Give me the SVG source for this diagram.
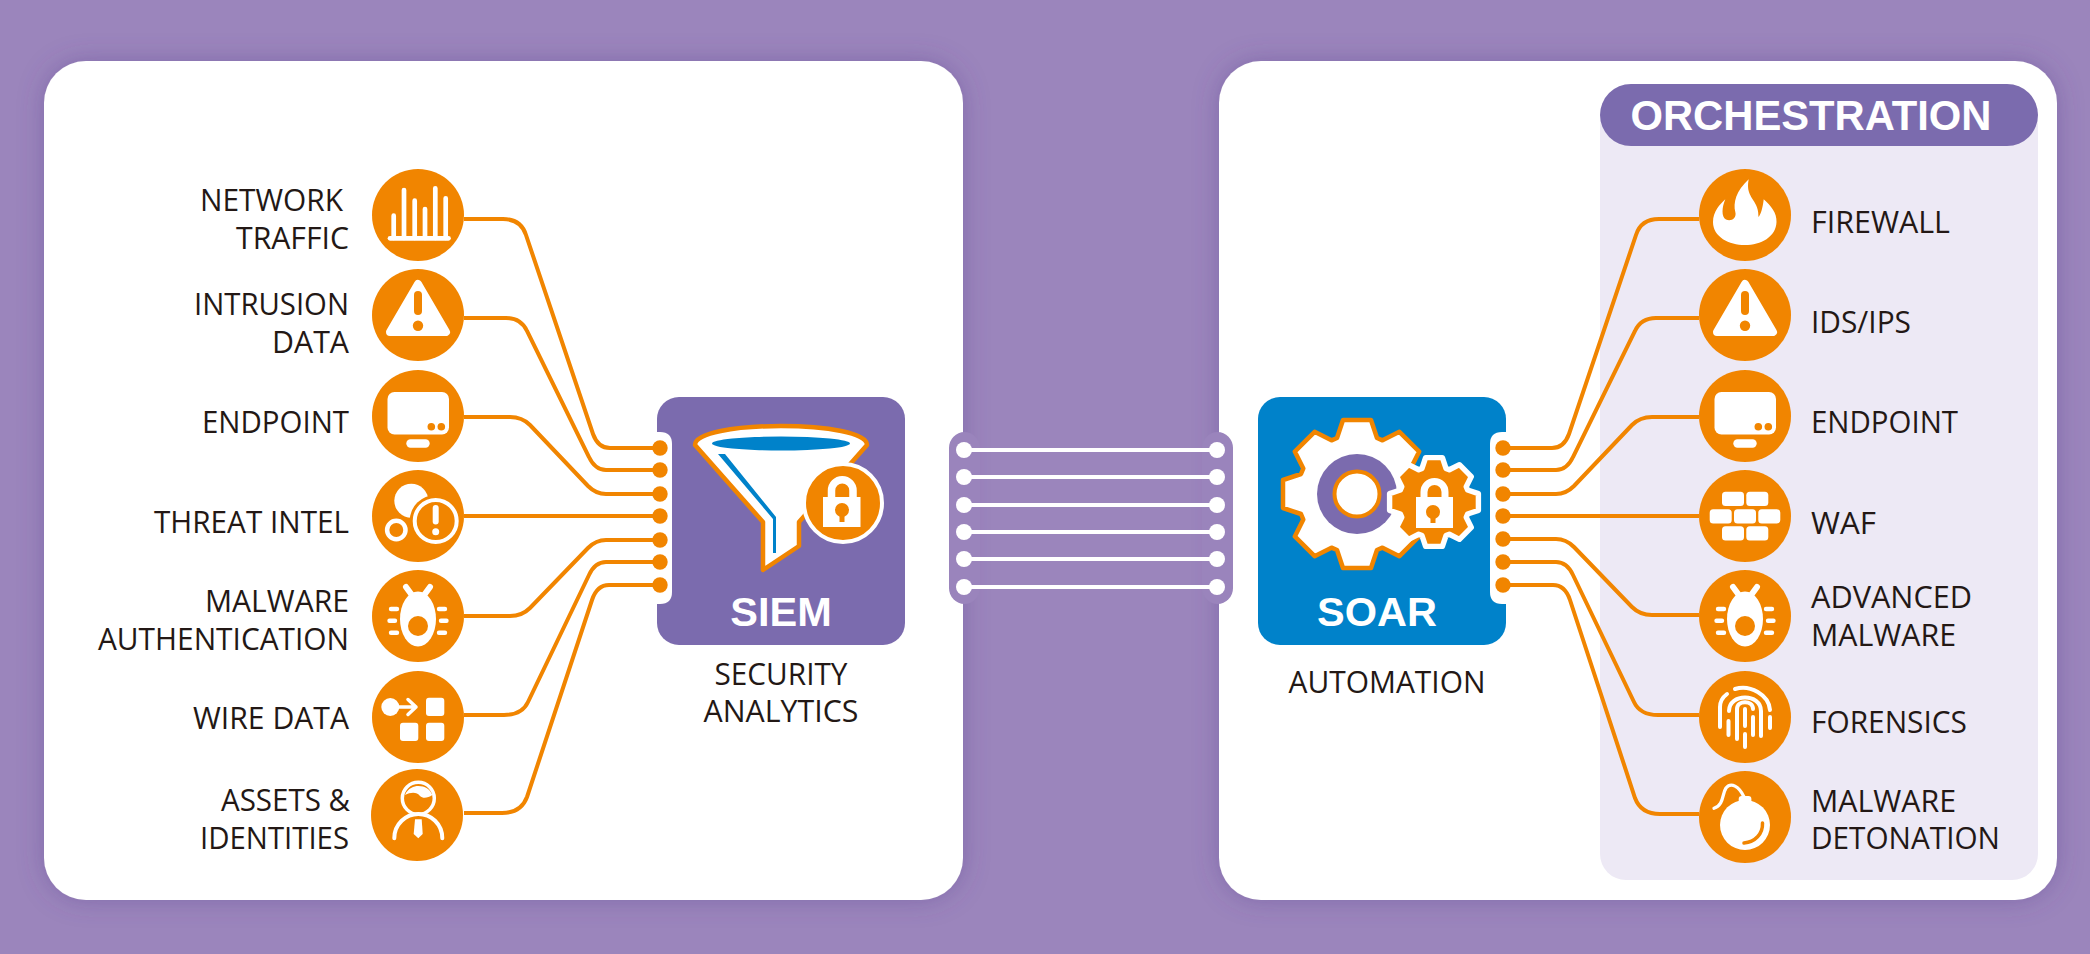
<svg xmlns="http://www.w3.org/2000/svg" width="2090" height="954" viewBox="0 0 2090 954">
<style>
.lbl{font-family:"Open Sans","Noto Sans","Liberation Sans",sans-serif;font-size:31px;fill:#231815}
.r{text-anchor:end}
.m{text-anchor:middle}
.ttl{font-family:"Liberation Sans",Arial,sans-serif;font-weight:700;fill:#fff}
.wire{fill:none;stroke:#f18500;stroke-width:4}
.dot{fill:#f18500}
.wl{stroke:#fff;stroke-width:4.2}
.wd{fill:#fff}
.disc{fill:#f18500}
.w{fill:#fff}
.ws{fill:none;stroke:#fff;stroke-linecap:round;stroke-linejoin:round}
.os{fill:none;stroke:#f18500;stroke-linecap:round;stroke-linejoin:round}
</style>
<defs>
<filter id="sh" x="-10%" y="-10%" width="120%" height="120%"><feDropShadow dx="0" dy="0" stdDeviation="13" flood-color="#5b4490" flood-opacity="0.42"/></filter>
<polygon id="gear" points="-20,-56 -14,-74 14,-74 20,-56 25.5,-53.7 42.4,-62.2 62.2,-42.4 53.7,-25.5 56,-20 74,-14 74,14 56,20 53.7,25.5 62.2,42.4 42.4,62.2 25.5,53.7 20,56 14,74 -14,74 -20,56 -25.5,53.7 -42.4,62.2 -62.2,42.4 -53.7,25.5 -56,20 -74,14 -74,-14 -56,-20 -53.7,-25.5 -62.2,-42.4 -42.4,-62.2 -25.5,-53.7"/>
<g id="i-warn"><circle class="disc" r="46"/><polygon points="0,-31 28,17 -28,17" fill="#fff" stroke="#fff" stroke-width="8" stroke-linejoin="round"/><line class="os" y1="-20" y2="-4" stroke-width="8"/><circle class="dot" cy="10.7" r="5.2"/></g>
<g id="i-mon"><circle class="disc" r="46"/><rect class="w" x="-30.5" y="-24" width="61.5" height="42.5" rx="7"/><circle class="dot" cx="13.3" cy="10.7" r="3.8"/><circle class="dot" cx="23.3" cy="10.7" r="3.8"/><rect class="w" x="-11.7" y="23.3" width="23.4" height="8.4" rx="4.2"/></g>
<g id="i-bug"><circle class="disc" r="46"/><ellipse class="w" cy="3" rx="18" ry="27.5"/><circle class="dot" cy="10" r="10"/><path class="ws" stroke-width="6" d="M-12 -29L-5 -19.5M12 -29L5 -19.5"/><path class="ws" stroke-width="4.4" d="M-27 -7H-21M-28.5 4.7H-23M-27 16.7H-21M21 -7H27M23 4.7H28.5M21 16.7H27"/></g>
</defs>

<rect id="background" width="2090" height="954" fill="#9b85bc"/>

<g id="panel-left"><rect x="44" y="61" width="919" height="839" rx="42" fill="#fff" filter="url(#sh)"/></g>
<g id="panel-right"><rect x="1219" y="61" width="838" height="839" rx="42" fill="#fff" filter="url(#sh)"/></g>

<g id="orchestration">
<rect x="1600" y="100" width="438" height="780" rx="26" fill="#ede9f5"/>
<rect x="1600" y="84" width="438" height="62" rx="31" fill="#7b6bae"/>
<text class="ttl" x="1811" y="130" font-size="43" text-anchor="middle" textLength="361" lengthAdjust="spacingAndGlyphs">ORCHESTRATION</text>
</g>

<g id="link-plates">
<rect x="949" y="432" width="31" height="172" rx="16" fill="#9a84bc"/>
<rect x="1202" y="432" width="31" height="172" rx="16" fill="#9a84bc"/>
</g>

<g id="connectors">
<path class="wire" d="M464 219H503Q521 219 526 235L593 434Q598 448 610 448H659"/>
<path class="wire" d="M464 318H506Q521 318 527 331L589 457Q595 470 606 470H659"/>
<path class="wire" d="M464 417H510Q522 417 530 425L588 486Q596 494 606 494H659"/>
<path class="wire" d="M464 516H659"/>
<path class="wire" d="M464 616H510Q522 616 530 608L588 548Q596 540 606 540H659"/>
<path class="wire" d="M464 715H504Q522 715 528 702L589 575Q595 562 606 562H659"/>
<path class="wire" d="M464 813H502Q521 813 527 797L592 600Q597 585 609 585H659"/>
<path class="wire" d="M1699 219H1659Q1641 219 1636 235L1569 434Q1564 448 1552 448H1503"/>
<path class="wire" d="M1699 318H1656Q1641 318 1635 331L1573 457Q1567 470 1556 470H1503"/>
<path class="wire" d="M1699 417H1652Q1640 417 1632 425L1574 486Q1566 494 1556 494H1503"/>
<path class="wire" d="M1699 516H1503"/>
<path class="wire" d="M1699 615H1652Q1640 615 1632 607L1574 547Q1566 539 1556 539H1503"/>
<path class="wire" d="M1699 715H1658Q1640 715 1634 702L1573 575Q1567 562 1556 562H1503"/>
<path class="wire" d="M1699 814H1660Q1641 814 1635 798L1570 600Q1565 585 1553 585H1503"/>
<g>
<line class="wl" x1="964" y1="450" x2="1217" y2="450"/><line class="wl" x1="964" y1="477" x2="1217" y2="477"/><line class="wl" x1="964" y1="505" x2="1217" y2="505"/><line class="wl" x1="964" y1="532" x2="1217" y2="532"/><line class="wl" x1="964" y1="559" x2="1217" y2="559"/><line class="wl" x1="964" y1="587" x2="1217" y2="587"/>
<circle class="wd" cx="964" cy="450" r="8"/><circle class="wd" cx="964" cy="477" r="8"/><circle class="wd" cx="964" cy="505" r="8"/><circle class="wd" cx="964" cy="532" r="8"/><circle class="wd" cx="964" cy="559" r="8"/><circle class="wd" cx="964" cy="587" r="8"/>
<circle class="wd" cx="1217" cy="450" r="8"/><circle class="wd" cx="1217" cy="477" r="8"/><circle class="wd" cx="1217" cy="505" r="8"/><circle class="wd" cx="1217" cy="532" r="8"/><circle class="wd" cx="1217" cy="559" r="8"/><circle class="wd" cx="1217" cy="587" r="8"/>
</g>
</g>

<g id="siem">
<rect x="657" y="397" width="248" height="248" rx="22" fill="#7b6bae"/>
<path d="M657 432H660Q672 432 672 444V592Q672 604 660 604H657Z" fill="#fff"/>
<path d="M695 445C695 433 735 426 781 426C827 426 867 433 867 445L799 522V546L763 570V522Z" fill="#fff" stroke="#f18500" stroke-width="4.5" stroke-linejoin="round"/>
<ellipse cx="781" cy="443.500" rx="69" ry="7" fill="#0082ca"/>
<polygon points="718,454 725,454 776,517 776,553 773,553 773,519" fill="#0082ca"/>
<circle cx="843" cy="503" r="39" fill="#f18500" stroke="#fff" stroke-width="4"/>
<rect x="823" y="497" width="37.500" height="30" fill="#fff"/>
<path d="M831.500 498V490.500A10.750 10.750 0 0 1 853 490.500V498" fill="none" stroke="#fff" stroke-width="7.500"/>
<circle cx="842" cy="510" r="7" fill="#f18500"/><rect x="839.500" y="512" width="5" height="10" fill="#f18500"/>
<text class="ttl m" x="781" y="626" font-size="41.500">SIEM</text>
<text class="lbl m" x="781" y="685" textLength="133" lengthAdjust="spacingAndGlyphs">SECURITY</text>
<text class="lbl m" x="781" y="722" textLength="155" lengthAdjust="spacingAndGlyphs">ANALYTICS</text>
<g class="dot"><circle cx="660" cy="448" r="7.700"/><circle cx="660" cy="470" r="7.700"/><circle cx="660" cy="494" r="7.700"/><circle cx="660" cy="516" r="7.700"/><circle cx="660" cy="540" r="7.700"/><circle cx="660" cy="562" r="7.700"/><circle cx="660" cy="585" r="7.700"/></g>
</g>

<g id="soar">
<rect x="1258" y="397" width="248" height="248" rx="22" fill="#0082ca"/>
<path d="M1506 432H1502Q1490 432 1490 444V592Q1490 604 1502 604H1506Z" fill="#fff"/>
<use href="#gear" transform="translate(1357 494)" fill="#fff" stroke="#f18500" stroke-width="4.500" stroke-linejoin="round"/>
<circle cx="1357" cy="494" r="40" fill="#7b6bae"/>
<circle cx="1357" cy="494" r="22.500" fill="#fff" stroke="#f18500" stroke-width="4"/>
<use href="#gear" transform="translate(1434 502) scale(.6)" fill="#f18500" stroke="#fff" stroke-width="9" stroke-linejoin="round"/>
<rect x="1416" y="497" width="37" height="31" fill="#fff"/>
<path d="M1424 498V492A10.500 10.500 0 0 1 1445 492V498" fill="none" stroke="#fff" stroke-width="7"/>
<circle cx="1433" cy="512" r="7" fill="#f18500"/><rect x="1430.500" y="514" width="5" height="9" fill="#f18500"/>
<text class="ttl m" x="1377" y="626" font-size="41.500">SOAR</text>
<text class="lbl m" x="1387" y="693" textLength="197" lengthAdjust="spacingAndGlyphs">AUTOMATION</text>
<g class="dot"><circle cx="1503" cy="448" r="7.700"/><circle cx="1503" cy="470" r="7.700"/><circle cx="1503" cy="494" r="7.700"/><circle cx="1503" cy="516" r="7.700"/><circle cx="1503" cy="539" r="7.700"/><circle cx="1503" cy="562" r="7.700"/><circle cx="1503" cy="585" r="7.700"/></g>
</g>

<g id="network-traffic">
<g transform="translate(418 215)"><circle class="disc" r="46"/><path class="ws" stroke-width="4.700" d="M-24.300 .7V23M-14 -25V23M-3.300 -14.300V23M7 -6V23M17.300 -26.700V23M27.700 -16.700V23"/><path class="ws" stroke-width="4.700" d="M-28 23.300H30.500"/></g>
<text class="lbl r" x="343" y="211" textLength="143" lengthAdjust="spacingAndGlyphs">NETWORK</text><text class="lbl r" x="349" y="249" textLength="113" lengthAdjust="spacingAndGlyphs">TRAFFIC</text>
</g>
<g id="intrusion-data">
<use href="#i-warn" transform="translate(418 315)"/>
<text class="lbl r" x="349" y="315" textLength="155" lengthAdjust="spacingAndGlyphs">INTRUSION</text><text class="lbl r" x="349" y="353" textLength="77" lengthAdjust="spacingAndGlyphs">DATA</text>
</g>
<g id="endpoint-left">
<use href="#i-mon" transform="translate(418 416)"/>
<text class="lbl r" x="349" y="433" textLength="147" lengthAdjust="spacingAndGlyphs">ENDPOINT</text>
</g>
<g id="threat-intel">
<g transform="translate(418 516)"><circle class="disc" r="46"/><circle class="w" cx="-6.700" cy="-15.300" r="17"/><circle class="dot" cx="17.700" cy="5" r="26"/><circle cx="17.700" cy="5" r="21" fill="none" stroke="#fff" stroke-width="4"/><line class="ws" x1="17.700" y1="-8" x2="17.700" y2="5.500" stroke-width="6"/><circle class="w" cx="17.700" cy="15.700" r="3.500"/><circle cx="-21.700" cy="14" r="9.200" fill="none" stroke="#fff" stroke-width="4.500"/></g>
<text class="lbl r" x="349" y="533" textLength="195" lengthAdjust="spacingAndGlyphs">THREAT INTEL</text>
</g>
<g id="malware-authentication">
<use href="#i-bug" transform="translate(418 616)"/>
<text class="lbl r" x="349" y="612" textLength="144" lengthAdjust="spacingAndGlyphs">MALWARE</text><text class="lbl r" x="349" y="650" textLength="251" lengthAdjust="spacingAndGlyphs">AUTHENTICATION</text>
</g>
<g id="wire-data">
<g transform="translate(418 717)"><circle class="disc" r="46"/><circle class="w" cx="-27.700" cy="-10" r="9"/><path class="ws" stroke-width="3.500" d="M-26 -10H-2M-10 -17.500L-2 -10L-10 -2.500"/><rect class="w" x="8" y="-19.300" width="18.300" height="18.300" rx="3"/><rect class="w" x="-18" y="5.700" width="18.300" height="18.300" rx="3"/><rect class="w" x="8" y="5.700" width="18.300" height="18.300" rx="3"/></g>
<text class="lbl r" x="349" y="729" textLength="156" lengthAdjust="spacingAndGlyphs">WIRE DATA</text>
</g>
<g id="assets-identities">
<g transform="translate(417 815)"><circle class="disc" r="46"/><circle cx="1.300" cy="-16.700" r="16" fill="none" stroke="#fff" stroke-width="3.500"/><path class="w" d="M-12 -20C-9 -27 -3 -29 1.300 -29C8 -29 13 -26 15.300 -20C11 -17 6 -16 3 -19C0 -23 -6 -23 -12 -20Z"/><path class="ws" stroke-width="4" d="M-22.700 23.300C-22.700 9 -11 -1 1.300 -1C14 -1 25.300 9 25.300 23.300"/><polygon class="w" points="-2,4.300 4.700,4.300 5.700,19 1.300,23.300 -3.300,19"/></g>
<text class="lbl r" x="350" y="811" textLength="129" lengthAdjust="spacingAndGlyphs">ASSETS &amp;</text><text class="lbl r" x="349" y="849" textLength="149" lengthAdjust="spacingAndGlyphs">IDENTITIES</text>
</g>

<g id="firewall">
<g transform="translate(1745 215)"><circle class="disc" r="46"/><path class="w" d="M-32 7C-32 -3 -25 -11 -19.700 -15.700C-23 -8 -24 2 -19 4.500C-14 7 -8 3 -9.700 -3C-12 -12 -9 -24 3.700 -35.700C1 -22 7 -18 11 -10C14 -4 13 0 13.700 2C17 -3 18 -10 18.700 -15.700C26 -9 32 -2 31.500 7C31 22 16 30 0 30C-16 30 -32 22 -32 7Z"/></g>
<text class="lbl" x="1811" y="233" textLength="139" lengthAdjust="spacingAndGlyphs">FIREWALL</text>
</g>
<g id="ids-ips">
<use href="#i-warn" transform="translate(1745 315)"/>
<text class="lbl" x="1811" y="333" textLength="100" lengthAdjust="spacingAndGlyphs">IDS/IPS</text>
</g>
<g id="endpoint-right">
<use href="#i-mon" transform="translate(1745 416)"/>
<text class="lbl" x="1811" y="433" textLength="147" lengthAdjust="spacingAndGlyphs">ENDPOINT</text>
</g>
<g id="waf">
<g transform="translate(1745 516)"><circle class="disc" r="46"/><g class="w"><rect x="-23" y="-24.300" width="22" height="14.300" rx="3.500"/><rect x="1.300" y="-24.300" width="22" height="14.300" rx="3.500"/><rect x="-35.300" y="-6.700" width="22" height="14.300" rx="3.500"/><rect x="-11" y="-6.700" width="22" height="14.300" rx="3.500"/><rect x="13.300" y="-6.700" width="22" height="14.300" rx="3.500"/><rect x="-23" y="10.300" width="22" height="14.300" rx="3.500"/><rect x="1.300" y="10.300" width="22" height="14.300" rx="3.500"/></g></g>
<text class="lbl" x="1811" y="534" textLength="65" lengthAdjust="spacingAndGlyphs">WAF</text>
</g>
<g id="advanced-malware">
<use href="#i-bug" transform="translate(1745 616)"/>
<text class="lbl" x="1811" y="608" textLength="161" lengthAdjust="spacingAndGlyphs">ADVANCED</text><text class="lbl" x="1811" y="646" textLength="145" lengthAdjust="spacingAndGlyphs">MALWARE</text>
</g>
<g id="forensics">
<g transform="translate(1745 717)"><circle class="disc" r="46"/><path class="ws" stroke-width="4" d="M-25 10V-10C-25 -16 -22 -20 -18 -23M-10 -28C5 -33 24 -22 25 -7M25 0V11M-16.500 4V18M-16 -6C-16 -24 16 -24 16 -6V19M-8 22V-8C-8 -17 8 -17 8 -8M8 0V18M0 -8V9M0 17V30"/></g>
<text class="lbl" x="1811" y="733" textLength="156" lengthAdjust="spacingAndGlyphs">FORENSICS</text>
</g>
<g id="malware-detonation">
<g transform="translate(1745 817)"><circle class="disc" r="46"/><circle class="w" cy="8" r="25"/><rect class="w" x="-6.300" y="-21" width="12.700" height="8" rx="3"/><path class="ws" stroke-width="3.300" d="M-1 -20C-6 -31 -14 -35 -19 -29C-23 -23 -21 -12 -31 -8.700"/><path class="os" stroke-width="3.500" d="M17.500 6C18 17 10 25 -1 26"/></g>
<text class="lbl" x="1811" y="812" textLength="145" lengthAdjust="spacingAndGlyphs">MALWARE</text><text class="lbl" x="1811" y="849" textLength="189" lengthAdjust="spacingAndGlyphs">DETONATION</text>
</g>
</svg>
